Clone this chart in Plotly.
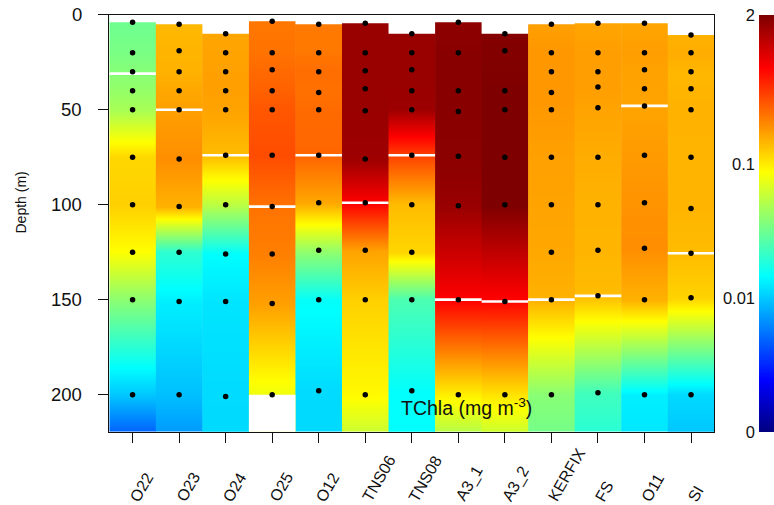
import numpy as np
import plotly.graph_objects as go

# ---------------- data ----------------
stations = ["O22", "O23", "O24", "O25", "O12", "TNS06", "TNS08",
            "A3_1", "A3_2", "KERFIX", "FS", "O11", "SI"]

# sample depths (m) and total chlorophyll a (mg m-3) for each station
o22_depth = [4, 20, 30, 40, 50, 75, 100, 125, 150, 200, 250]
o22_chla = [0.0326, 0.0354, 0.0386, 0.0429, 0.0487, 0.119, 0.127, 0.0881, 0.040, 0.0099, 0.0007]

o23_depth = [5, 19, 30, 40, 50, 76, 101, 125, 151, 200, 250]
o23_chla = [0.154, 0.158, 0.162, 0.176, 0.188, 0.217, 0.162, 0.0207, 0.0134, 0.0094, 0.0042]

o24_depth = [10, 20, 30, 40, 50, 74, 100, 126, 151, 201, 250]
o24_chla = [0.180, 0.183, 0.187, 0.188, 0.183, 0.149, 0.056, 0.0149, 0.0124, 0.0115, 0.0113]

o25_depth = [3.5, 20, 29, 40, 50, 74, 101, 126, 152, 200]
o25_chla = [0.264, 0.272, 0.291, 0.316, 0.344, 0.374, 0.272, 0.246, 0.188, 0.0794]

o12_depth = [5, 20, 30, 41, 50, 74, 99, 124, 150, 198, 250]
o12_chla = [0.257, 0.262, 0.284, 0.277, 0.291, 0.304, 0.176, 0.0423, 0.0155, 0.0115, 0.0113]

tns06_depth = [4.5, 20, 29.5, 39, 50.5, 76, 99, 124, 150, 200, 250]
tns06_chla = [1.62, 1.62, 1.62, 1.62, 1.62, 1.555, 0.702, 0.183, 0.126, 0.0913, 0.035]

tns08_depth = [10, 20, 29, 40, 50, 74, 100, 125, 150, 198, 250]
tns08_chla = [1.62, 1.62, 1.62, 1.62, 1.555, 0.407, 0.149, 0.120, 0.0257, 0.0152, 0.0151]

a3_1_depth = [4, 20, 40, 51, 74.5, 100.5, 150, 200, 250]
a3_1_chla = [1.764, 1.839, 1.839, 1.839, 1.809, 1.62, 0.702, 0.0979, 0.0207]

a3_2_depth = [10, 19, 40, 50, 75, 100, 151, 200, 250]
a3_2_chla = [1.9, 1.95, 2.0, 2.0, 2.0, 2.0, 0.673, 0.106, 0.0276]

kerfix_depth = [5, 20, 30, 41, 50, 75, 100, 125, 150, 200, 250]
kerfix_chla = [0.188, 0.203, 0.203, 0.203, 0.199, 0.187, 0.183, 0.176, 0.162, 0.0394, 0.0276]

fs_depth = [4.5, 20, 30, 38, 49, 75, 100, 124, 148, 199, 250]
fs_chla = [0.180, 0.191, 0.191, 0.191, 0.183, 0.169, 0.162, 0.158, 0.149, 0.0239, 0.0155]

o11_depth = [4.5, 20, 29, 39, 48, 74, 99, 123, 150, 200, 250]
o11_chla = [0.180, 0.191, 0.185, 0.185, 0.182, 0.196, 0.209, 0.217, 0.162, 0.0134, 0.0115]

si_depth = [10.7, 20, 30, 39, 50, 75, 102, 125.6, 149, 200, 250]
si_chla = [0.162, 0.169, 0.155, 0.158, 0.162, 0.158, 0.158, 0.149, 0.123, 0.0115, 0.0077]

# mixed layer depth (m), white bars
mld = [31, 50, 74, 101, 74, 99, 74, 150, 151, 150, 148, 48, 125.6]

# depth axis ticks
depth_ticks = [0, 50, 100, 150, 200]

# colour bar tick values (mg m-3) and their relative position on the bar
cbar_vals = [0, 0.01, 0.1, 2]
cbar_labels = ["0", "0.01", "0.1", "2"]
cbar_pos = [0.0, 0.321, 0.643, 1.0]

depths = [o22_depth, o23_depth, o24_depth, o25_depth, o12_depth, tns06_depth, tns08_depth,
          a3_1_depth, a3_2_depth, kerfix_depth, fs_depth, o11_depth, si_depth]
chlas = [o22_chla, o23_chla, o24_chla, o25_chla, o12_chla, tns06_chla, tns08_chla,
         a3_1_chla, a3_2_chla, kerfix_chla, fs_chla, o11_chla, si_chla]

# ---------------- layout constants ----------------
W, H = 774, 505
def fx(p):
    return p / W
def fy(p):
    return 1 - p / H

FONT = "Liberation Sans, Arial, Helvetica, sans-serif"
YMAX = 219.5

jet = [[0.0, "#00007F"], [0.125, "#0000FF"], [0.25, "#007FFF"], [0.375, "#00FFFF"],
       [0.5, "#7FFF7F"], [0.625, "#FFFF00"], [0.75, "#FF7F00"], [0.875, "#FF0000"],
       [1.0, "#7F0000"]]

def to_scale(v):
    lv = np.log10(np.asarray(v, dtype=float) + 0.001)
    return np.interp(lv, np.log10(np.asarray(cbar_vals) + 0.001), cbar_pos)

fig = go.Figure()

# station columns
for i, (d, c) in enumerate(zip(depths, chlas)):
    xi = i + 1
    fig.add_trace(go.Heatmap(
        x=[xi - 0.5, xi + 0.5], y=d, z=[[t] for t in to_scale(c)],
        zmin=0, zmax=1, colorscale=jet, zsmooth="best", showscale=False,
        hoverinfo="skip"))

# white masks above the first sample and below the last sample
mx, my = [], []
for i, d in enumerate(depths):
    xi = i + 1
    for top, bot in ((-5, min(d)), (max(d), 240)):
        mx += [xi - 0.5, xi + 0.5, xi + 0.5, xi - 0.5, xi - 0.5, None]
        my += [top, top, bot, bot, top, None]
fig.add_trace(go.Scatter(x=mx, y=my, mode="lines", fill="toself", fillcolor="white",
                         line=dict(width=0, color="white"), hoverinfo="skip", showlegend=False))

# mixed layer depth
lx, ly = [], []
for i, m in enumerate(mld):
    lx += [i + 1 - 0.5, i + 1 + 0.5, None]
    ly += [m, m, None]
fig.add_trace(go.Scatter(x=lx, y=ly, mode="lines", line=dict(color="white", width=2.6),
                         hoverinfo="skip", showlegend=False))

# sample points
px, py = [], []
for i, d in enumerate(depths):
    px += [i + 1] * len(d)
    py += list(d)
fig.add_trace(go.Scatter(x=px, y=py, mode="markers",
                         marker=dict(color="black", size=5.5, line=dict(width=0)),
                         hoverinfo="skip", showlegend=False))

# colour bar as its own small subplot
cb = np.linspace(0, 1, 256)
fig.add_trace(go.Heatmap(x=[0, 1], y=cb, z=[[t] for t in cb], zmin=0, zmax=1,
                         colorscale=jet, zsmooth="best", showscale=False,
                         xaxis="x2", yaxis="y2", hoverinfo="skip"))

annotations = []
for i, s in enumerate(stations):
    annotations.append(dict(x=i + 1, xref="x", y=fy(507), yref="paper", text=s,
                            showarrow=False, textangle=-60, xanchor="left",
                            yanchor="bottom", xshift=-9,
                            font=dict(family=FONT, size=16, color="#111")))
for v in depth_ticks:
    annotations.append(dict(x=fx(84), xref="paper", y=v, yref="y", text=str(v),
                            showarrow=False, xanchor="right", yanchor="middle",
                            font=dict(family=FONT, size=18.5, color="#111")))
annotations.append(dict(x=fx(20), y=fy(202.5), xref="paper", yref="paper",
                        text="Depth (m)", textangle=-90, showarrow=False,
                        xanchor="center", yanchor="middle",
                        font=dict(family=FONT, size=14, color="#111")))
annotations.append(dict(x=fx(466), y=fy(406.5), xref="paper", yref="paper",
                        text="TChla (mg m<sup>-3</sup>)", showarrow=False,
                        xanchor="center", yanchor="middle",
                        font=dict(family=FONT, size=19.5, color="#111")))

fig.update_layout(
    width=W, height=H, margin=dict(l=0, r=0, t=0, b=0, autoexpand=False),
    paper_bgcolor="white", plot_bgcolor="white", showlegend=False,
    xaxis=dict(domain=[fx(109.3), fx(714.3)], range=[0.5, 13.5], automargin=False,
               tickvals=list(range(1, len(stations) + 1)), showticklabels=False,
               ticks="outside", ticklen=10, tickwidth=1.3, tickcolor="#111",
               showgrid=False, zeroline=False, showline=True, linecolor="#111",
               linewidth=1.3, mirror=True),
    yaxis=dict(domain=[fy(431.7), fy(14.7)], range=[YMAX, 0], automargin=False,
               tickvals=depth_ticks, showticklabels=False, ticks="outside", ticklen=10,
               tickwidth=1.3, tickcolor="#111",
               showgrid=False, zeroline=False, showline=True, linecolor="#111",
               linewidth=1.3, mirror=True),
    xaxis2=dict(domain=[fx(759), 1.0], range=[0, 1], visible=False, anchor="y2",
                automargin=False),
    yaxis2=dict(domain=[fy(432.3), fy(15)], range=[0, 1], anchor="x2", side="left",
                automargin=False,
                tickvals=list(to_scale(cbar_vals)), ticktext=cbar_labels, ticks="",
                ticklabelstandoff=3, showgrid=False, zeroline=False, showline=False,
                tickfont=dict(family=FONT, size=16.5, color="#111")),
    annotations=annotations,
)

fig.write_html("out.html")
